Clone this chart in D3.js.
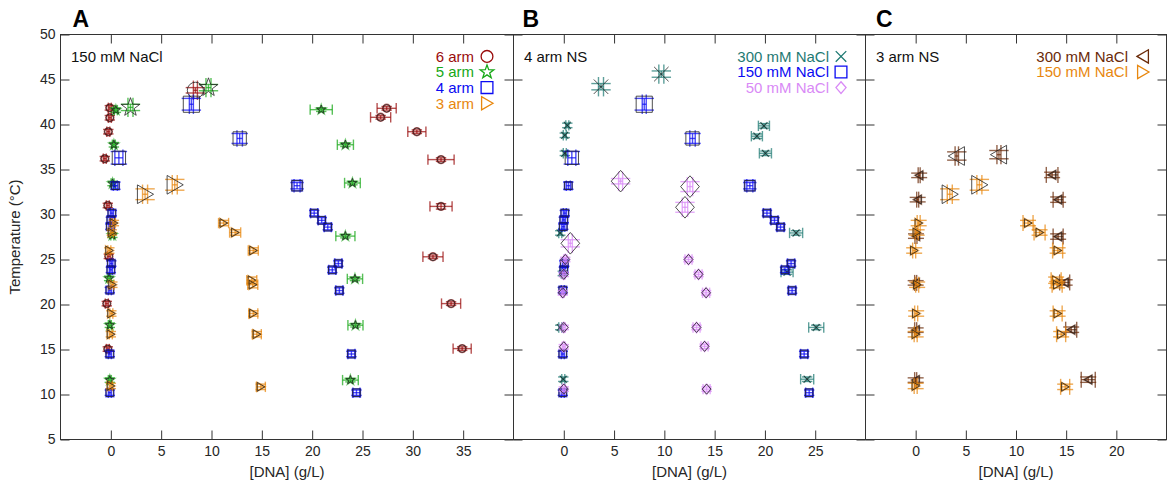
<!DOCTYPE html>
<html><head><meta charset="utf-8">
<script src="https://cdn.jsdelivr.net/npm/d3@7"></script>
<style>
body{margin:0;background:#fff}
svg{display:block}
text{font-family:"Liberation Sans",Arial,Helvetica,sans-serif;fill:#262626}
</style>
</head><body>
<svg id="chart" width="1167" height="489"></svg>
<script>
// ---------------- DATA ----------------
// each row: [DNA concentration (g/L), temperature (°C), conc. error, temp. error, marker size class]
const yTickValues = [5,10,15,20,25,30,35,40,45,50];
const xTicksA = [0,5,10,15,20,25,30,35];
const xTicksB = [0,5,10,15,20,25];
const xTicksC = [0,5,10,15,20];

const arm6 = [
  [-0.1,41.85,0.15,0.25,1],[-0.1,40.75,0.15,0.25,1],[-0.25,39.2,0.15,0.25,1],[-0.6,36.2,0.15,0.25,1],
  [-0.3,31.0,0.15,0.25,1],[-0.2,25.35,0.15,0.25,1],[-0.4,20.1,0.15,0.25,1],[-0.3,15.05,0.15,0.25,1],
  [8.4,43.8,0.2,0.3,3],
  [27.4,41.8,0.95,0.2,1],[26.8,40.8,1.0,0.2,1],[30.4,39.2,0.9,0.2,1],[32.8,36.1,1.3,0.2,1],
  [32.8,30.9,1.1,0.3,1],[32.0,25.3,1.0,0.2,1],[33.8,20.1,0.95,0.2,1],[34.9,15.1,0.9,0.2,1]
];
const arm5 = [
  [0.5,41.6,0.15,0.25,1],[0.3,37.75,0.15,0.25,1],[0.17,33.45,0.15,0.25,1],[0.15,27.7,0.15,0.25,1],
  [-0.17,22.9,0.15,0.25,1],[-0.1,17.7,0.15,0.25,1],[-0.1,11.6,0.15,0.25,1],
  [1.95,41.9,0.25,0.35,3],[9.7,44.1,0.25,0.35,3],
  [20.9,41.65,1.1,0.2,1],[23.3,37.75,0.8,0.2,1],[24.0,33.5,0.78,0.2,1],[23.3,27.6,0.95,0.2,1],
  [24.25,22.85,0.76,0.2,1],[24.3,17.7,0.75,0.2,1],[23.8,11.6,0.78,0.2,1]
];
// 4 arm at 150 mM NaCl (also the 150 mM series of the 4 arm NS panel)
const arm4 = [
  [0.8,36.3,0.4,0.7,2],[0.45,33.2,0.2,0.4,1],[0.1,30.15,0.15,0.3,1],[0.0,29.4,0.15,0.3,1],
  [-0.05,28.65,0.15,0.3,1],[0.05,24.55,0.15,0.3,1],[0.0,23.85,0.15,0.3,1],[-0.1,21.6,0.15,0.3,1],
  [-0.1,14.5,0.15,0.3,1],[-0.1,10.2,0.15,0.3,1],
  [8.0,42.25,0.2,0.65,3],[12.8,38.45,0.27,0.55,2],[18.5,33.2,0.3,0.35,1.5],
  [20.2,30.15,0.35,0.3,1],[20.95,29.35,0.35,0.3,1],[21.55,28.6,0.35,0.3,1],[22.6,24.55,0.35,0.3,1],
  [22.0,23.85,0.35,0.3,1],[22.7,21.55,0.35,0.3,1],[23.9,14.5,0.35,0.3,1],[24.4,10.2,0.35,0.3,1]
];
// 3 arm at 150 mM NaCl (also the 150 mM series of the 3 arm NS panel)
const arm3 = [
  [0.3,29.05,0.15,0.3,1],[0.1,28.0,0.15,0.3,1],[-0.15,26.0,0.15,0.3,1],[0.15,22.2,0.15,0.3,1],
  [0.05,19.0,0.15,0.3,1],[0.0,16.7,0.15,0.3,1],[0.0,10.95,0.15,0.3,1],
  [3.4,32.25,0.25,0.6,3],[6.35,33.3,0.25,0.6,3],
  [11.2,29.05,0.5,0.3,1],[12.35,28.0,0.55,0.3,1],[14.15,26.0,0.5,0.3,1],[14.0,22.7,0.5,0.35,1],
  [14.1,22.2,0.5,0.35,1],[14.15,19.0,0.45,0.3,1],[14.5,16.7,0.45,0.3,1],[14.9,10.85,0.45,0.3,1]
];
// 4 arm NS, 300 mM NaCl
const ns4Na300 = [
  [0.35,39.9,0.15,0.25,1],[0.1,38.8,0.15,0.25,1],[0.1,36.8,0.15,0.25,1],[-0.35,27.95,0.15,0.25,1],
  [-0.1,23.45,0.15,0.25,1],[-0.35,17.45,0.15,0.25,1],[-0.05,11.7,0.15,0.25,1],
  [3.7,44.2,0.25,0.35,3],[9.7,45.6,0.25,0.35,3],
  [19.9,39.85,0.55,0.25,1],[19.2,38.7,0.55,0.25,1],[20.05,36.8,0.6,0.25,1],[23.1,27.95,0.65,0.25,1],
  [22.2,23.6,0.6,0.25,1],[25.1,17.45,0.75,0.25,1],[24.2,11.7,0.65,0.25,1]
];
// 4 arm NS, 50 mM NaCl
const ns4Na50 = [
  [0.15,25.0,0.15,0.25,1],[0.0,23.35,0.15,0.25,1],[-0.1,21.3,0.15,0.25,1],[0.0,17.45,0.15,0.25,1],
  [0.0,15.3,0.15,0.25,1],[0.0,10.6,0.15,0.25,1],
  [5.65,33.7,0.2,0.3,3],[12.55,33.1,0.27,0.55,3],[12.05,30.8,0.27,0.55,3],[0.65,26.8,0.2,0.4,3],
  [12.4,25.0,0.35,0.25,1],[13.4,23.35,0.35,0.25,1],[14.15,21.3,0.35,0.25,1],[13.2,17.45,0.35,0.25,1],
  [14.0,15.35,0.35,0.25,1],[14.2,10.6,0.35,0.25,1]
];
// 3 arm NS, 300 mM NaCl
const ns3Na300 = [
  [0.35,34.35,0.1,0.25,1],[0.2,31.65,0.1,0.25,1],[0.03,27.6,0.1,0.25,1],[0.0,22.4,0.1,0.25,1],
  [0.0,17.15,0.1,0.25,1],[0.0,11.6,0.1,0.25,1],
  [4.1,36.5,0.17,0.46,3],[8.3,36.65,0.2,0.46,3],
  [13.6,34.4,0.58,0.3,1],[14.2,31.65,0.5,0.3,1],[14.2,27.55,0.5,0.3,1],[14.85,22.45,0.5,0.3,1],
  [15.5,17.2,0.55,0.3,1],[17.2,11.65,0.7,0.3,1]
];

const panelLetters = ["A","B","C"];
const panelNotes = ["150 mM NaCl","4 arm NS","3 arm NS"];
const legendA = ["6 arm","5 arm","4 arm","3 arm"];
const legendB = ["300 mM NaCl","150 mM NaCl","50 mM NaCl"];
const legendC = ["300 mM NaCl","150 mM NaCl"];

// ---------------- STYLE / LAYOUT ----------------
const col = {
  red:"#9A0C0C", green:"#17A817", blue:"#0A0AF2", orange:"#E8870E",
  teal:"#1F7A73", violet:"#D98AF6", brown:"#6A2A08"
};
const svg = d3.select("#chart");
const yTop = 34.5, yBot = 439.5;
const y = d3.scaleLinear().domain([5,50]).range([yBot,yTop]);

const panels = [
  {x0:60.5,x1:513.5,dom:[-5,40],ticks:xTicksA,letterX:72.5,noteX:71,legX:474,markX:487,capMin:5,
   series:[
     {data:arm6,color:col.red,shape:"circle",label:legendA[0]},
     {data:arm5,color:col.green,shape:"star",label:legendA[1]},
     {data:arm4,color:col.blue,shape:"square",label:legendA[2]},
     {data:arm3,color:col.orange,shape:"triR",label:legendA[3]}]},
  {x0:513.5,x1:865.5,dom:[-5,30],ticks:xTicksB,letterX:522.5,noteX:524,legX:829,markX:841,capMin:5,
   series:[
     {data:ns4Na300,color:col.teal,shape:"cross",label:legendB[0]},
     {data:arm4,color:col.blue,shape:"square",label:legendB[1]},
     {data:ns4Na50,color:col.violet,shape:"diamond",label:legendB[2]}]},
  {x0:865.5,x1:1166.5,dom:[-5,25],ticks:xTicksC,letterX:876,noteX:876,legX:1128,markX:1143,capMin:8,
   series:[
     {data:ns3Na300,color:col.brown,shape:"triL",label:legendC[0]},
     {data:arm3,color:col.orange,shape:"triR",label:legendC[1]}]}
];

function rOf(s){ return s>=3 ? 8.5 : (s>=2 ? 7 : (s>1 ? 5.5 : 4)); }

function shapePath(shape, r){
  const p = d3.path();
  if(shape==="circle"){ p.arc(0,0,r*0.95,0,2*Math.PI); p.closePath(); }
  else if(shape==="square"){ const h=r*0.95; p.rect(-h,-h,2*h,2*h); }
  else if(shape==="star"){
    const R=r*1.15, ri=R*0.4;
    for(let i=0;i<10;i++){
      const a=-Math.PI/2+i*Math.PI/5, rr=i%2?ri:R;
      const px=rr*Math.cos(a), py=rr*Math.sin(a);
      i?p.lineTo(px,py):p.moveTo(px,py);
    }
    p.closePath();
  }
  else if(shape==="triR"){ p.moveTo(r,0); p.lineTo(-0.9*r,-1.1*r); p.lineTo(-0.9*r,1.1*r); p.closePath(); }
  else if(shape==="triL"){ p.moveTo(-r,0); p.lineTo(0.9*r,-1.1*r); p.lineTo(0.9*r,1.1*r); p.closePath(); }
  else if(shape==="diamond"){ p.moveTo(0,-1.27*r); p.lineTo(1.1*r,0); p.lineTo(0,1.27*r); p.lineTo(-1.1*r,0); p.closePath(); }
  else if(shape==="cross"){ const h=r*0.85; p.moveTo(-h,-h); p.lineTo(h,h); p.moveTo(-h,h); p.lineTo(h,-h); }
  return p.toString();
}

panels.forEach((P,pi)=>{
  const x = d3.scaleLinear().domain(P.dom).range([P.x0,P.x1]);
  const g = svg.append("g");

  // axes (ticks inward on all four sides)
  const ax = (gen, tr, labels)=>{
    const a = g.append("g").attr("transform",tr).call(gen);
    a.select(".domain").remove();
    a.selectAll(".tick line").attr("stroke","#333").attr("stroke-width",1);
    a.selectAll(".tick text").attr("font-size",14).attr("fill","#262626")
      .style("font-family","'Liberation Sans',Arial,sans-serif");
    if(!labels) a.selectAll(".tick text").remove();
    return a;
  };
  ax(d3.axisBottom(x).tickValues(P.ticks).tickSize(-9).tickPadding(7), `translate(0,${yBot})`, true);
  ax(d3.axisTop(x).tickValues(P.ticks).tickSize(-9), `translate(0,${yTop})`, false);
  ax(d3.axisLeft(y).tickValues(yTickValues).tickSize(-9).tickPadding(5), `translate(${P.x0},0)`, pi===0);
  ax(d3.axisRight(y).tickValues(yTickValues).tickSize(-9), `translate(${P.x1},0)`, false);

  g.append("rect").attr("x",P.x0).attr("y",yTop).attr("width",P.x1-P.x0).attr("height",yBot-yTop)
    .attr("fill","none").attr("stroke","#333").attr("stroke-width",1);

  // x label
  g.append("text").attr("x",(P.x0+P.x1)/2).attr("y",476.5).attr("text-anchor","middle")
    .attr("font-size",15).text("[DNA] (g/L)");

  // panel letter
  svg.append("text").attr("x",P.letterX).attr("y",26.5).attr("font-size",23).attr("font-weight","bold")
    .attr("fill","#000").style("fill","#000").text(panelLetters[pi]);
  // note
  g.append("text").attr("x",P.noteX).attr("y",61.7).attr("font-size",15).style("fill","#111").text(panelNotes[pi]);

  // data
  P.series.forEach(S=>{
    const sg = g.append("g");
    S.data.forEach(d=>{
      const [c,T,dc,dT,s] = d;
      const cx = x(c), cy = y(T), r = rOf(s);
      const cap = Math.max(P.capMin, r+1.2);
      const eb = sg.append("g").attr("stroke",S.color).attr("stroke-width",1.4).attr("stroke-opacity",0.72).attr("fill","none");
      const xl = x(c-dc), xr = x(c+dc), yl = y(T-dT), yh = y(T+dT);
      eb.append("line").attr("x1",xl).attr("x2",xr).attr("y1",cy).attr("y2",cy);
      eb.append("line").attr("x1",xl).attr("x2",xl).attr("y1",cy-cap).attr("y2",cy+cap);
      eb.append("line").attr("x1",xr).attr("x2",xr).attr("y1",cy-cap).attr("y2",cy+cap);
      eb.append("line").attr("x1",cx).attr("x2",cx).attr("y1",yl).attr("y2",yh);
      eb.append("line").attr("x1",cx-cap).attr("x2",cx+cap).attr("y1",yl).attr("y2",yl);
      eb.append("line").attr("x1",cx-cap).attr("x2",cx+cap).attr("y1",yh).attr("y2",yh);
      if(s<2){
        sg.append("path").attr("transform",`translate(${cx},${cy})`).attr("d",shapePath(S.shape,r))
          .attr("fill","none").attr("stroke",S.color).attr("stroke-width",1.8).attr("stroke-opacity",0.6);
      }
      sg.append("path").attr("transform",`translate(${cx},${cy})`).attr("d",shapePath(S.shape,r))
        .attr("fill","none").attr("stroke","#222").attr("stroke-width",0.8);
    });
  });

  // legend
  P.series.forEach((S,i)=>{
    const by = 61.7 + i*15.6;
    g.append("text").attr("x",P.legX).attr("y",by).attr("text-anchor","end").attr("font-size",15)
      .style("fill",S.color).text(S.label);
    g.append("path").attr("transform",`translate(${P.markX},${by-5.3})`).attr("d",shapePath(S.shape,S.shape==="diamond"?4.6:(S.shape.startsWith("tri")?6:6.2)))
      .attr("fill","none").attr("stroke",S.color).attr("stroke-width",1.3);
  });
});

// y label
svg.append("text").attr("transform",`translate(20,${(yTop+yBot)/2}) rotate(-90)`).attr("text-anchor","middle")
  .attr("font-size",15).text("Temperature (°C)");
</script>
</body></html>
